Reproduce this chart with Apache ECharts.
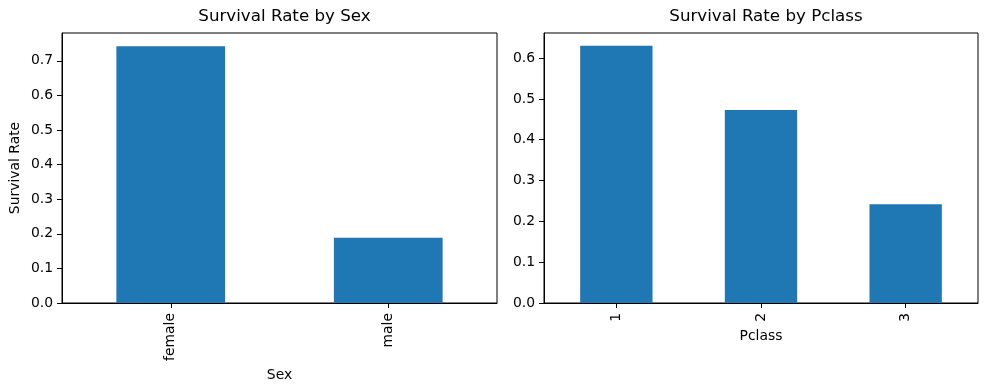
<!DOCTYPE html>
<html><head><meta charset="utf-8">
<script src="https://cdn.jsdelivr.net/npm/echarts@6/dist/echarts.min.js"></script>
<style>html,body{margin:0;padding:0;background:#fff}#c{width:989px;height:390px}</style>
</head><body><div id="c"></div>
<script>
const sexCategories = ['female', 'male'];
const sexRates = [0.742, 0.189];
const pclassCategories = ['1', '2', '3'];
const pclassRates = [0.630, 0.473, 0.242];
const leftTicks = [0, 0.1, 0.2, 0.3, 0.4, 0.5, 0.6, 0.7];
const rightTicks = [0, 0.1, 0.2, 0.3, 0.4, 0.5, 0.6];

const FONT = 'DejaVu Sans';
const chart = echarts.init(document.getElementById('c'), null, {renderer: 'canvas'});
function xAxis(idx, cats, name, gap) {
  return {
    type: 'category', gridIndex: idx, data: cats, name: name, nameLocation: 'middle', nameGap: gap,
    nameTextStyle: {fontFamily: FONT, fontSize: 13.9, color: '#000'},
    axisLine: {show: true, lineStyle: {color: '#000', width: 1}},
    axisTick: {show: true, alignWithLabel: true, length: 5, lineStyle: {color: '#000'}},
    axisLabel: {rotate: 90, margin: 10, fontFamily: FONT, fontSize: 13.9, color: '#000'},
    splitLine: {show: false}
  };
}
function yAxis(idx, maxV, ticks, name) {
  return {
    type: 'value', gridIndex: idx, min: 0, max: maxV, interval: 0.1,
    name: name, nameLocation: 'middle', nameGap: 40,
    nameTextStyle: {fontFamily: FONT, fontSize: 13.9, color: '#000'},
    axisLine: {show: true, lineStyle: {color: '#000', width: 1}},
    axisTick: {show: true, length: 5, lineStyle: {color: '#000'}, customValues: ticks},
    axisLabel: {margin: 9, fontFamily: FONT, fontSize: 13.9, color: '#000', customValues: ticks,
      formatter: v => v.toFixed(1)},
    splitLine: {show: false}
  };
}
chart.setOption({
  animation: false,
  title: [
    {text: 'Survival Rate by Sex', left: 279.5, top: 3, textAlign: 'center',
     textStyle: {fontFamily: FONT, fontSize: 16.7, fontWeight: 'normal', color: '#000'}},
    {text: 'Survival Rate by Pclass', left: 761, top: 3, textAlign: 'center',
     textStyle: {fontFamily: FONT, fontSize: 16.7, fontWeight: 'normal', color: '#000'}}
  ],
  grid: [
    {left: 62, top: 33, width: 435, height: 270, show: true, borderColor: '#000', borderWidth: 1, backgroundColor: 'transparent'},
    {left: 544, top: 33, width: 434, height: 270, show: true, borderColor: '#000', borderWidth: 1, backgroundColor: 'transparent'}
  ],
  xAxis: [xAxis(0, sexCategories, 'Sex', 61), xAxis(1, pclassCategories, 'Pclass', 23)],
  yAxis: [yAxis(0, 0.742 * 1.052, leftTicks, 'Survival Rate'), yAxis(1, 0.630 * 1.05, rightTicks, '')],
  series: [
    {type: 'bar', xAxisIndex: 0, yAxisIndex: 0, data: sexRates, barWidth: '50%', itemStyle: {color: '#1f77b4'}},
    {type: 'bar', xAxisIndex: 1, yAxisIndex: 1, data: pclassRates, barWidth: '50%', itemStyle: {color: '#1f77b4'}}
  ]
});
</script></body></html>
